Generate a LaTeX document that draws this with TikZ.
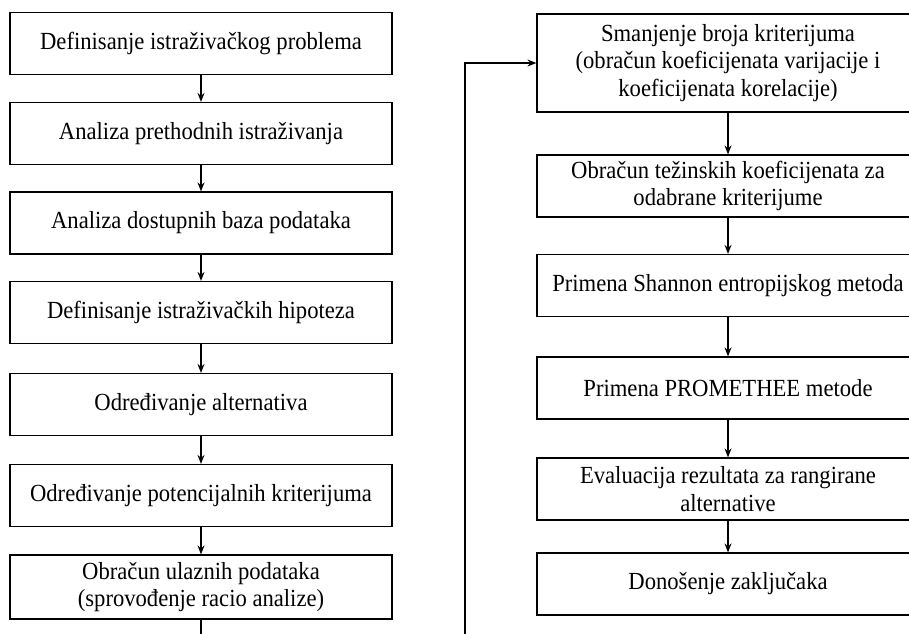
\documentclass[tikz,border=0pt]{standalone}
\usepackage{fontspec}
\setmainfont{Liberation Serif}[FakeStretch=0.92]
\usetikzlibrary{arrows.meta}

\tikzset{
    stage/.style={draw, line width=0.6pt, minimum width=191pt, minimum height=31pt,
        align=center, inner sep=2pt, font=\fontsize{12.3}{13.8}\selectfont},
    flow/.style={line width=0.6pt, -{Stealth[length=4.5pt, width=3.5pt]}},
}

\begin{document}
\begin{tikzpicture}[x=0.5pt, y=-0.5pt]
    \useasboundingbox (0,0) rectangle (909,633);

    \node[stage] (def) at (201, 43.5) {Definisanje istraživačkog problema};
    \node[stage] (prev) at (201, 133.5) {Analiza prethodnih istraživanja};
    \node[stage] (base) at (201, 223) {Analiza dostupnih baza podataka};
    \node[stage] (hyp) at (201, 312.5) {Definisanje istraživačkih hipoteza};
    \node[stage] (alt) at (201, 404.5) {Određivanje alternativa};
    \node[stage] (crit) at (201, 495.5) {Određivanje potencijalnih kriterijuma};
    \node[stage, minimum height=32pt] (input) at (201, 587) {Obračun ulaznih podataka\\(sprovođenje racio analize)};

    \node[stage, minimum height=49pt] (reduce) at (728, 63) {Smanjenje broja kriterijuma\\(obračun koeficijenata varijacije i\\koeficijenata korelacije)};
    \node[stage] (weight) at (728, 186) {Obračun težinskih koeficijenata za\\odabrane kriterijume};
    \node[stage] (shannon) at (728, 285.5) {Primena Shannon entropijskog metoda};
    \node[stage] (prom) at (728, 388) {Primena PROMETHEE metode};
    \node[stage] (eval) at (728, 489) {Evaluacija rezultata za rangirane\\alternative};
    \node[stage] (concl) at (728, 584) {Donošenje zaključaka};

    % left column
    \draw[flow] (def) -- (prev);
    \draw[flow] (prev) -- (base);
    \draw[flow] (base) -- (hyp);
    \draw[flow] (hyp) -- (alt);
    \draw[flow] (alt) -- (crit);
    \draw[flow] (crit) -- (input);

    % over to the right column
    \coordinate (cutL) at (201, 640);
    \coordinate (cutR) at (465, 640);
    \draw[line width=0.6pt] (input) -- (cutL);
    \draw[flow] (cutR) |- (reduce);

    % right column
    \draw[flow] (reduce) -- (weight);
    \draw[flow] (weight) -- (shannon);
    \draw[flow] (shannon) -- (prom);
    \draw[flow] (prom) -- (eval);
    \draw[flow] (eval) -- (concl);
\end{tikzpicture}
\end{document}
